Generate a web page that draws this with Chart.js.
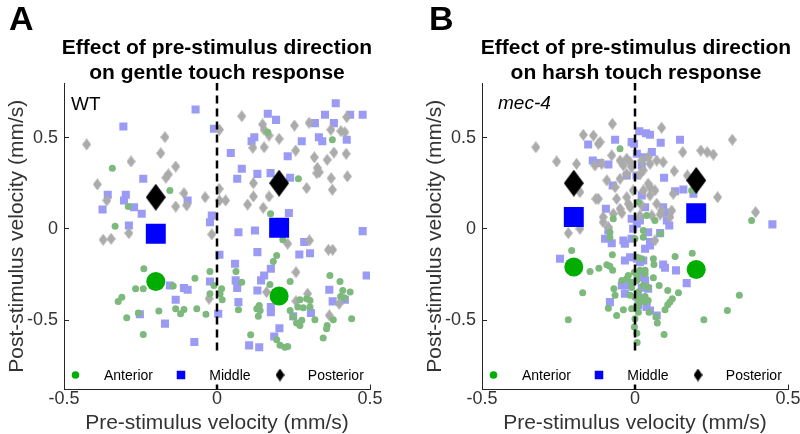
<!DOCTYPE html>
<html>
<head>
<meta charset="utf-8">
<script src="https://cdn.jsdelivr.net/npm/chart.js@4.4.1/dist/chart.umd.min.js"></script>
<style>
  html, body { margin: 0; padding: 0; background: #fff; }
  #wrap { position: relative; width: 800px; height: 434px; overflow: hidden; font-family: "Liberation Sans", Arial, sans-serif; color: #000; }
  canvas { position: absolute; top: 0; }
  #chartA { left: 0; }
  #chartB { left: 418px; }
  .letter { position: absolute; font-weight: bold; font-size: 34px; line-height: 34px; }
  .title { position: absolute; width: 400px; text-align: center; font-weight: bold; font-size: 21px; line-height: 25px; }
</style>
</head>
<body>
<div id="wrap">
  <canvas id="chartA" width="400" height="434"></canvas>
  <canvas id="chartB" width="392" height="434"></canvas>
  <div class="letter" style="left:9px;top:1px">A</div>
  <div class="letter" style="left:429px;top:1px">B</div>
  <div class="title" style="left:17px;top:34px">Effect of pre-stimulus direction<br>on gentle touch response</div>
  <div class="title" style="left:436px;top:34px">Effect of pre-stimulus direction<br>on harsh touch response</div>
</div>
<script>
// axis setup
const tickValues = [-0.5, 0, 0.5];
const zeroLine = [[0, -0.88], [0, 0.8]];
const groupLabels = ['Anterior', 'Middle', 'Posterior'];

// A: WT, gentle touch  ([pre, post] velocity, mm/s)
const wtAnterior = [[-0.342,0.333],[-0.154,0.211],[-0.290,0.123],[0.166,0.530],[0.377,0.489],[0.266,0.275],[0.175,0.083],[-0.333,0.015],[-0.239,-0.218],[-0.266,-0.328],[-0.241,-0.328],[-0.072,-0.270],[-0.023,-0.233],[-0.010,-0.310],[0.015,-0.328],[0.010,-0.355],[0.017,-0.388],[-0.023,-0.355],[-0.311,-0.374],[-0.323,-0.397],[-0.143,-0.313],[-0.190,-0.450],[-0.135,-0.437],[-0.108,-0.441],[-0.119,-0.465],[-0.066,-0.437],[-0.036,-0.468],[-0.257,-0.461],[-0.295,-0.487],[-0.241,-0.578],[0.215,-0.059],[0.195,-0.145],[0.184,-0.178],[0.062,-0.233],[0.239,-0.288],[0.369,-0.255],[0.402,-0.288],[0.173,-0.304],[0.081,-0.292],[0.411,-0.337],[0.435,-0.346],[0.404,-0.370],[0.416,-0.377],[0.271,-0.388],[0.293,-0.382],[0.304,-0.392],[0.264,-0.428],[0.282,-0.432],[0.304,-0.428],[0.138,-0.419],[0.130,-0.437],[0.141,-0.447],[0.135,-0.479],[0.239,-0.447],[0.070,-0.443],[0.249,-0.483],[0.260,-0.516],[0.271,-0.529],[0.277,-0.501],[0.320,-0.498],[0.380,-0.498],[0.440,-0.492],[0.360,-0.529],[0.358,-0.547],[0.110,-0.580],[0.347,-0.598],[0.195,-0.607],[0.206,-0.638],[0.222,-0.648],[0.231,-0.644]];
const wtMiddle = [[-0.070,0.655],[-0.306,0.562],[-0.010,0.549],[0.045,0.416],[-0.241,0.275],[-0.357,0.187],[-0.298,0.187],[-0.304,0.156],[-0.374,0.107],[-0.271,0.119],[-0.246,0.083],[-0.096,0.156],[-0.017,0.074],[0.388,0.689],[0.166,0.631],[0.193,0.598],[0.353,0.626],[0.435,0.626],[0.476,0.626],[0.320,0.580],[0.382,0.580],[0.122,0.503],[0.113,0.481],[0.277,0.481],[0.333,0.503],[0.344,0.481],[0.424,0.489],[0.231,0.399],[0.081,0.330],[0.132,0.302],[0.175,0.306],[0.066,0.275],[0.239,0.281],[0.235,0.087],[-0.288,0.019],[-0.023,0.037],[0.008,-0.141],[-0.023,-0.288],[-0.154,-0.310],[-0.108,-0.324],[-0.096,-0.333],[-0.135,-0.388],[-0.252,-0.468],[0.004,-0.465],[-0.170,-0.519],[-0.074,-0.620],[0.070,-0.018],[0.124,-0.008],[0.476,-0.012],[0.285,-0.072],[0.132,-0.127],[0.269,-0.140],[0.304,-0.133],[0.059,-0.191],[0.176,-0.218],[0.154,-0.255],[0.144,-0.282],[0.061,-0.282],[0.066,-0.324],[0.489,-0.255],[0.132,-0.337],[0.367,-0.333],[0.378,-0.397],[0.418,-0.388],[0.070,-0.401],[0.176,-0.428],[0.176,-0.456],[0.307,-0.461],[0.249,-0.479],[0.204,-0.544],[0.187,-0.589],[0.105,-0.638],[0.138,-0.648]];
const wtPosterior = [[-0.170,0.503],[-0.426,0.463],[0.008,0.544],[-0.184,0.415],[-0.281,0.370],[-0.135,0.342],[-0.159,0.299],[-0.167,0.281],[-0.391,0.244],[-0.108,0.196],[-0.039,0.174],[0.007,0.220],[0.008,0.156],[0.028,0.156],[-0.360,0.156],[-0.135,0.123],[-0.099,0.129],[0.081,0.618],[0.149,0.573],[0.154,0.544],[0.253,0.567],[0.301,0.582],[0.424,0.613],[0.372,0.544],[0.405,0.536],[0.418,0.530],[0.170,0.512],[0.203,0.494],[0.117,0.445],[0.154,0.448],[0.257,0.430],[0.382,0.419],[0.422,0.412],[0.318,0.393],[0.360,0.379],[0.328,0.335],[0.334,0.311],[0.326,0.306],[0.373,0.278],[0.426,0.288],[0.119,0.251],[0.293,0.224],[0.377,0.215],[0.119,0.178],[0.170,0.178],[0.100,0.134],[0.151,0.116],[-0.372,-0.059],[-0.346,-0.054],[-0.288,-0.023],[-0.017,-0.030],[-0.026,-0.382],[0.231,-0.081],[0.302,-0.063],[0.364,-0.114],[0.378,-0.114],[0.258,-0.237],[0.162,-0.346],[0.296,-0.355],[0.258,-0.396],[0.399,-0.410],[0.367,-0.474]];
const wtAnteriorMean = [[-0.2,-0.288],[0.203,-0.368]];
const wtMiddleMean = [[-0.2,-0.026],[0.203,0.007]];
const wtPosteriorMean = [[-0.2,0.174],[0.203,0.251]];

// B: mec-4, harsh touch
const mecAnterior = [[-0.049,0.439],[0.011,0.147],[-0.071,0.056],[0.185,0.211],[0.381,0.047],[0.038,0.074],[-0.082,-0.018],[0,-0.054],[0.027,-0.045],[-0.207,-0.118],[-0.074,-0.141],[-0.147,-0.233],[-0.118,-0.215],[-0.092,-0.196],[-0.082,-0.205],[-0.073,-0.227],[-0.002,-0.237],[0.016,-0.227],[-0.043,-0.282],[-0.027,-0.273],[-0.011,-0.292],[0.006,-0.282],[0.027,-0.310],[-0.069,-0.328],[-0.065,-0.364],[-0.171,-0.350],[-0.016,-0.364],[0,-0.374],[0.016,-0.382],[0.033,-0.370],[0.011,-0.410],[-0.087,-0.434],[-0.038,-0.443],[-0.011,-0.437],[0.006,-0.428],[-0.060,-0.474],[-0.218,-0.498],[0,-0.492],[-0.002,-0.538],[0.006,-0.571],[0.084,-0.026],[0.131,-0.151],[0.187,-0.133],[0.060,-0.163],[0.062,-0.195],[0.033,-0.227],[0.060,-0.267],[0.079,-0.310],[0.107,-0.337],[0.142,-0.350],[0.122,-0.382],[0.114,-0.401],[0.107,-0.415],[0.098,-0.443],[0.043,-0.392],[0.046,-0.456],[0.069,-0.483],[0.073,-0.516],[0.341,-0.364],[0.302,-0.447],[0.225,-0.498],[0.095,-0.578],[0.065,0.047],[-0.082,-0.047],[0.027,-0.008],[0.006,-0.155],[0.022,-0.163],[0.033,-0.245],[0.006,-0.255],[-0.022,-0.255],[-0.011,-0.321],[0.011,-0.346],[0.043,-0.319],[0.033,-0.401],[0.011,-0.456],[0.007,-0.622]];
const mecMiddle = [[0.014,0.536],[0.036,0.525],[-0.065,0.489],[-0.153,0.463],[-0.003,0.467],[-0.138,0.375],[-0.087,0.353],[-0.027,0.293],[0.005,0.293],[-0.073,0.238],[0.022,0.184],[-0.095,0.111],[0.033,0.119],[0.049,0.516],[0.084,0.472],[0.147,0.489],[0.055,0.421],[0.027,0.393],[0.022,0.348],[0.095,0.281],[0.131,0.207],[0.158,0.216],[0.191,0.193],[0.092,0.119],[-0.087,-0.008],[-0.098,-0.054],[-0.076,-0.078],[-0.038,-0.063],[-0.006,0.001],[0.016,0.047],[-0.245,-0.163],[-0.033,-0.173],[0.006,-0.163],[0.016,-0.182],[-0.027,-0.310],[-0.033,-0.355],[-0.082,-0.401],[0.016,-0.264],[0.449,0.025],[0.043,-0.018],[0.082,-0.023],[0.112,0.019],[0.049,-0.072],[0.027,-0.173],[0.092,-0.195],[0.098,-0.213],[0.134,-0.227],[0.169,-0.297],[0.033,-0.282],[0.022,-0.322],[0.049,-0.447],[-0.011,0.476],[-0.114,0.361],[0.006,0.412],[0.098,0.090],[0.104,0.047],[-0.011,0.056],[0.006,0.028],[-0.033,-0.081],[-0.011,-0.054],[0.033,-0.108],[0.049,-0.090],[-0.016,-0.155],[-0.043,-0.310],[0.043,-0.328],[0.038,-0.428],[0.011,-0.374],[0.011,-0.419],[0.071,-0.474]];
const mecPosterior = [[-0.074,0.576],[-0.169,0.516],[-0.136,0.512],[-0.324,0.448],[-0.120,0.467],[-0.256,0.370],[-0.191,0.357],[-0.131,0.348],[-0.109,0.357],[-0.076,0.403],[-0.049,0.375],[-0.027,0.385],[-0.016,0.366],[-0.180,0.202],[-0.128,0.165],[-0.092,0.266],[-0.065,0.229],[-0.049,0.275],[-0.027,0.302],[-0.011,0.339],[-0.060,0.165],[-0.027,0.174],[-0.006,0.211],[-0.022,0.138],[-0.049,0.111],[-0.071,0.083],[-0.104,0.065],[0.087,0.555],[0.318,0.489],[0.156,0.421],[0.215,0.430],[0.236,0.421],[0.256,0.408],[0.092,0.366],[0.071,0.375],[0.049,0.357],[0.128,0.317],[0.171,0.293],[0.049,0.229],[0.065,0.211],[0.125,0.193],[0.270,0.174],[0.394,0.092],[0.027,0.321],[0.114,0.065],[-0.218,-0.023],[-0.180,0.001],[-0.104,0.037],[-0.043,0.087],[0.016,0.074],[0.055,0.074],[0.082,0.079],[-0.114,0.476],[-0.038,0.348],[0.022,0.375],[0.043,0.393],[0.016,0.299],[0.043,0.248],[0.027,0.211],[0.049,0.184],[-0.016,0.119],[0.022,0.129],[0.071,0.138],[0.087,0.101],[0.120,0.101],[-0.120,0.165],[-0.087,0.010],[0.065,-0.063]];
const mecAnteriorMean = [[-0.2,-0.209],[0.2,-0.222]];
const mecMiddleMean = [[-0.2,0.065],[0.2,0.086]];
const mecPosteriorMean = [[-0.2,0.251],[0.2,0.266]];

const FONT = '"Liberation Sans", Arial, sans-serif';
const AXIS = '#262626';
const TEXT = '#333333';
const COLORS = {
  anteriorLight: '#7db87d',
  middleLight: '#9b9bf5',
  posteriorLight: '#ababab',
  anterior: '#00ad00',
  middle: '#0000ff',
  posterior: '#000000',
};

// MATLAB-style diamond is taller than wide, so build it as a small canvas sprite
function diamond(w, h, color) {
  const c = document.createElement('canvas');
  c.width = w;
  c.height = h;
  const ctx = c.getContext('2d');
  ctx.fillStyle = color;
  ctx.beginPath();
  ctx.moveTo(w / 2, 0);
  ctx.lineTo(w, h / 2);
  ctx.lineTo(w / 2, h);
  ctx.lineTo(0, h / 2);
  ctx.closePath();
  ctx.fill();
  return c;
}

const smallDiamond = diamond(9, 12, COLORS.posteriorLight);
const bigDiamond = diamond(20, 27, COLORS.posterior);
const legendDiamond = diamond(9, 13, COLORS.posterior);

function pts(arr) {
  return arr.map(([x, y]) => ({ x, y }));
}

function buildDatasets(ant, mid, post, antMean, midMean, postMean) {
  const base = { borderWidth: 0, pointBorderWidth: 0 };
  return [
    { ...base, label: 'zero', data: pts(zeroLine), showLine: true, borderColor: '#000', borderWidth: 2.5, borderDash: [8, 5], pointRadius: 0, order: -1 },
    { ...base, label: groupLabels[0] + ' mean', data: pts(antMean), pointStyle: 'circle', pointRadius: 9.5, backgroundColor: COLORS.anterior, order: 0 },
    { ...base, label: groupLabels[1] + ' mean', data: pts(midMean), pointStyle: 'rect', pointRadius: 14.1, backgroundColor: COLORS.middle, order: 0 },
    { ...base, label: groupLabels[2] + ' mean', data: pts(postMean), pointStyle: bigDiamond, pointRadius: 13, backgroundColor: COLORS.posterior, order: 0 },
    { ...base, label: groupLabels[0], data: pts(ant), pointStyle: 'circle', pointRadius: 3.5, backgroundColor: COLORS.anteriorLight, order: 1 },
    { ...base, label: groupLabels[2], data: pts(post), pointStyle: smallDiamond, pointRadius: 6, backgroundColor: COLORS.posteriorLight, order: 2 },
    { ...base, label: groupLabels[1], data: pts(mid), pointStyle: 'rect', pointRadius: 5.7, backgroundColor: COLORS.middleLight, order: 3 },
  ];
}

// legend (inside the axes, white box) + genotype label
const panelExtras = {
  id: 'panelExtras',
  afterDatasetsDraw(chart, args, opts) {
    const { ctx, chartArea: a } = chart;
    const ly = a.bottom - 14.5;
    ctx.save();
    ctx.fillStyle = '#fff';
    ctx.fillRect(a.left + 1, a.bottom - 35, a.right - a.left - 1, 30);

    // markers
    ctx.fillStyle = COLORS.anterior;
    ctx.beginPath();
    ctx.arc(a.left + 11.5, ly, 3.8, 0, Math.PI * 2);
    ctx.fill();
    ctx.fillStyle = COLORS.middle;
    ctx.fillRect(a.left + 117 - 4.25, ly - 4.25, 8.5, 8.5);
    ctx.drawImage(legendDiamond, a.left + 216 - 4.5, ly - 6.5);

    ctx.fillStyle = '#000';
    ctx.font = '14px ' + FONT;
    ctx.textBaseline = 'middle';
    ctx.textAlign = 'left';
    const textX = [40, 145.3, 243.8];
    groupLabels.forEach((t, i) => ctx.fillText(t, a.left + textX[i], ly + 1));

    ctx.font = (opts.italic ? 'italic ' : '') + '19px ' + FONT;
    ctx.textBaseline = 'alphabetic';
    ctx.fillText(opts.text, a.left + opts.dx, a.top + opts.dy);
    ctx.restore();
  },
};

function setTicks(scale) {
  scale.ticks = tickValues.map(v => ({ value: v }));
}

function makeChart(id, datasets, label, rightPad) {
  return new Chart(document.getElementById(id), {
    type: 'scatter',
    data: { datasets },
    options: {
      responsive: false,
      animation: false,
      events: [],
      layout: { padding: { top: 83, right: rightPad, left: 0, bottom: 0 } },
      plugins: {
        legend: { display: false },
        tooltip: { enabled: false },
        panelExtras: label,
      },
      scales: {
        x: {
          type: 'linear',
          min: -0.5,
          max: 0.5,
          afterBuildTicks: setTicks,
          afterFit: s => { s.height = 44.5; },
          grid: { drawOnChartArea: false, tickLength: -5, color: AXIS },
          border: { color: AXIS, width: 1 },
          ticks: { color: TEXT, font: { family: FONT, size: 18 }, padding: 4, maxRotation: 0 },
          title: { display: true, text: 'Pre-stimulus velocity (mm/s)', color: TEXT, font: { family: FONT, size: 21 }, padding: { top: 0, bottom: -2 } },
        },
        y: {
          type: 'linear',
          min: -0.88,
          max: 0.8,
          afterBuildTicks: setTicks,
          afterFit: s => { s.width = 64; },
          grid: { drawOnChartArea: false, tickLength: -5, color: AXIS },
          border: { color: AXIS, width: 1 },
          ticks: { color: TEXT, font: { family: FONT, size: 18 }, padding: 11 },
          title: { display: true, text: 'Post-stimulus velocity (mm/s)', color: TEXT, font: { family: FONT, size: 21 }, padding: { top: 5, bottom: 0 } },
        },
      },
    },
    plugins: [panelExtras],
  });
}

makeChart('chartA',
  buildDatasets(wtAnterior, wtMiddle, wtPosterior, wtAnteriorMean, wtMiddleMean, wtPosteriorMean),
  { text: 'WT', dx: 7, dy: 27, italic: false }, 30);
makeChart('chartB',
  buildDatasets(mecAnterior, mecMiddle, mecPosterior, mecAnteriorMean, mecMiddleMean, mecPosteriorMean),
  { text: 'mec-4', dx: 16, dy: 25.5, italic: true }, 22);
</script>
</body>
</html>
